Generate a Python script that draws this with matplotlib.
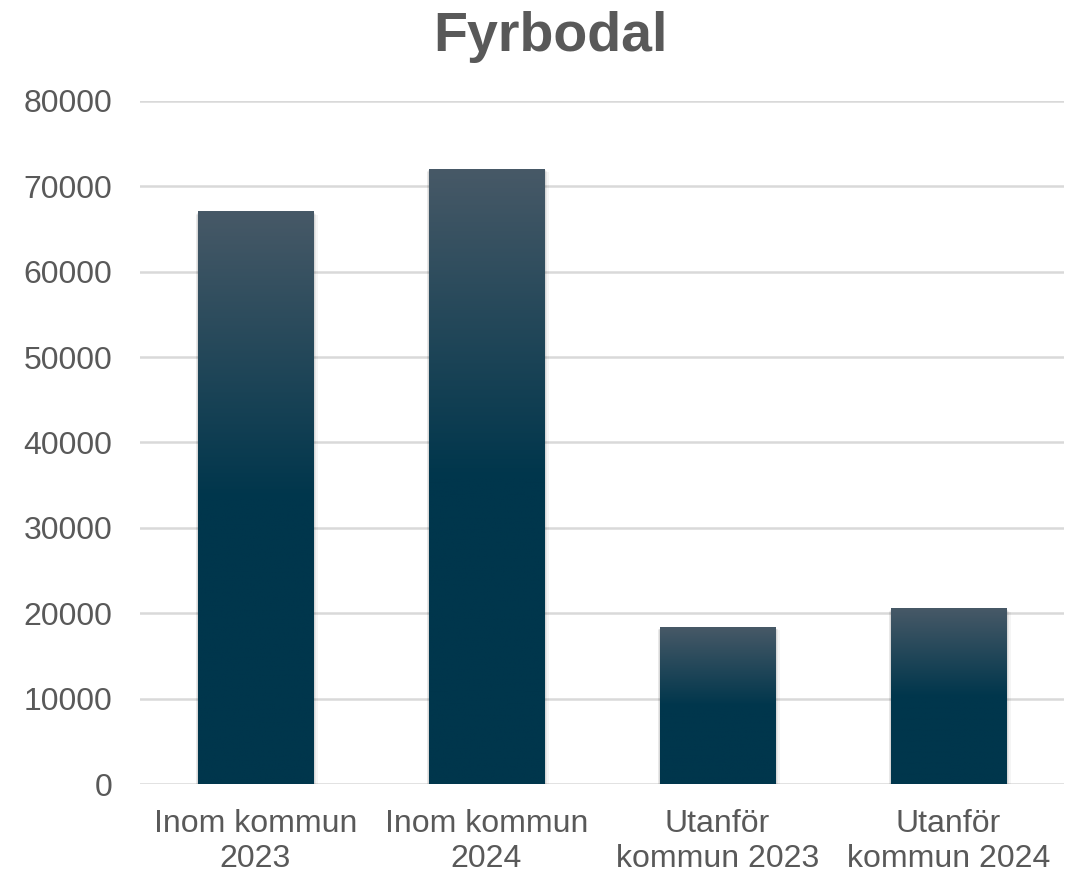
import numpy as np
import matplotlib
matplotlib.use("Agg")
import matplotlib.pyplot as plt
from matplotlib.colors import LinearSegmentedColormap

plt.rcParams['font.family'] = ['Liberation Sans', 'DejaVu Sans']

categories = ["Inom kommun\n2023", "Inom kommun\n2024", "Utanför\nkommun 2023", "Utanför\nkommun 2024"]
values = [67000, 72000, 18300, 20500]
yticks = [0, 10000, 20000, 30000, 40000, 50000, 60000, 70000, 80000]

text_color = "#595959"
grid_color = "#d9d9d9"

fig = plt.figure(figsize=(10.71, 8.72), dpi=100)
ax = fig.add_axes([0.1307, 0.1009, 0.8628, 0.7833])

x = np.arange(len(values))
width = 0.5

ax.set_yticks(yticks)
ax.set_yticklabels([str(v) for v in yticks])
ax.set_xticks(x)
ax.set_xticklabels(categories, linespacing=1.22)
ax.yaxis.grid(True, color=grid_color, linewidth=1.8, zorder=0)
ax.set_axisbelow(True)
for s in ax.spines.values():
    s.set_visible(False)
ax.tick_params(axis='both', length=0, labelsize=23, labelcolor=text_color)
ax.tick_params(axis='y', pad=20)
ax.tick_params(axis='x', pad=18)

# gradient: light slate at top, dark teal from the middle down
cmap = LinearSegmentedColormap.from_list(
    "bar", [(0.0, "#00364c"), (0.5, "#00364c"), (1.0, "#475967")])
grad = np.linspace(0, 1, 256).reshape(-1, 1)

bars = ax.bar(x, values, width=width, color="none", zorder=2)
for b in bars:
    x0, y0 = b.get_x(), b.get_y()
    w, h = b.get_width(), b.get_height()
    # soft shadow
    for i, a in enumerate([0.07, 0.05, 0.04]):
        dx = 0.008 * (i + 1)
        ax.add_patch(plt.Rectangle((x0 - dx * 0.4, y0 - 250 * (i + 1)), w + dx * 1.2, h + 150 * (i + 1),
                                   facecolor="black", alpha=a, edgecolor="none", zorder=1.5))
    ax.imshow(grad, cmap=cmap, aspect='auto', origin='lower',
              extent=[x0, x0 + w, y0, y0 + h], zorder=2.5)

ax.set_xlim(-0.5, len(values) - 0.5)
ax.set_ylim(0, 80000)

fig.text(0.514, 0.957, "Fyrbodal", ha='center', va='center', fontsize=40,
         fontweight='bold', color=text_color)

fig.savefig("out.png", dpi=100)
